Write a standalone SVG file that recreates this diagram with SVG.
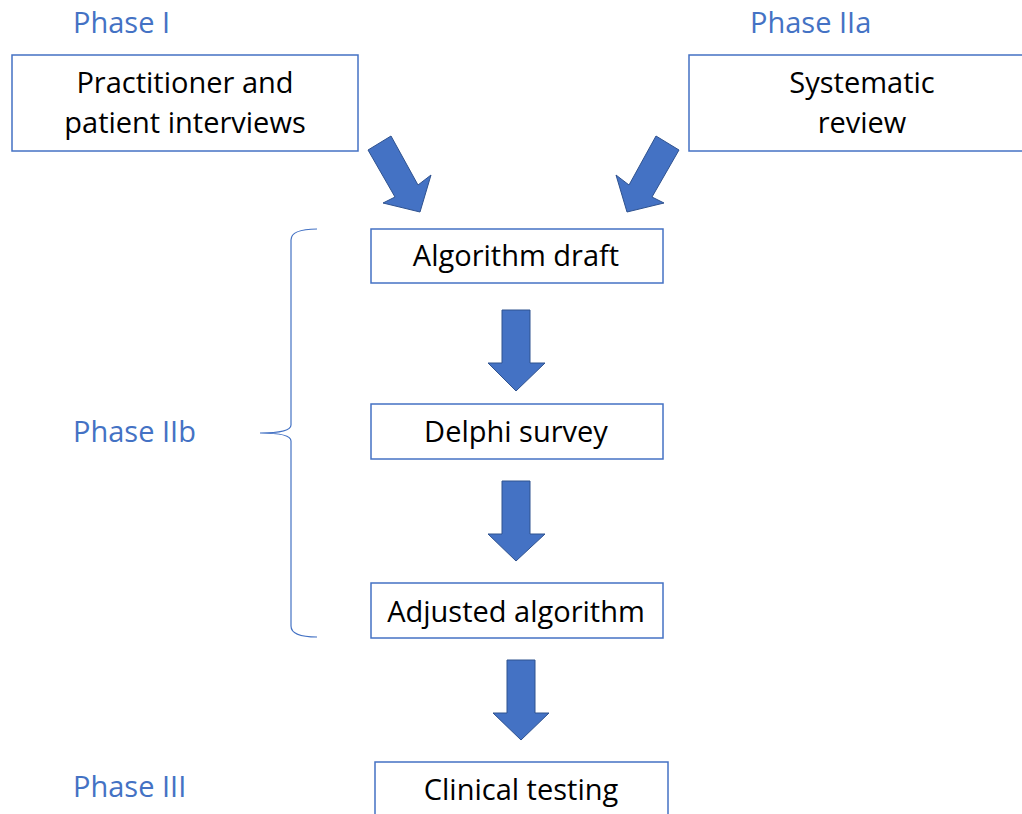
<svg xmlns="http://www.w3.org/2000/svg" width="1022" height="814" viewBox="0 0 1022 814">
<style>
.box{fill:#fff;stroke:#4472C4;stroke-width:1.5}
.t{font-family:"Open Sans","Noto Sans",sans-serif;font-size:29px;fill:#000;text-anchor:middle}
.ph{font-family:"Open Sans","Noto Sans",sans-serif;font-size:29px;fill:#4472C4}
.arr{fill:#4472C4;stroke:#2F528F;stroke-width:1}
.brace{fill:none;stroke:#4472C4;stroke-width:1.2}
</style>
<rect width="1022" height="814" fill="#fff"/>
<g id="labels">
<text class="ph" x="73" y="33">Phase I</text>
<text class="ph" x="750" y="33">Phase IIa</text>
<text class="ph" x="73" y="442">Phase IIb</text>
<text class="ph" x="73" y="797">Phase III</text>
</g>
<g id="n1"><rect class="box" x="12" y="55" width="346" height="96"/>
<text class="t" x="185" y="93">Practitioner and</text>
<text class="t" x="185" y="133">patient interviews</text></g>
<g id="n2"><rect class="box" x="689" y="55" width="340" height="96"/>
<text class="t" x="862" y="93">Systematic</text>
<text class="t" x="862" y="133">review</text></g>
<g id="n3"><rect class="box" x="371" y="229" width="292" height="54"/>
<text class="t" x="516" y="266">Algorithm draft</text></g>
<g id="n4"><rect class="box" x="371" y="404" width="292" height="55"/>
<text class="t" x="516" y="442">Delphi survey</text></g>
<g id="n5"><rect class="box" x="371" y="583" width="292" height="55"/>
<text class="t" x="516" y="622">Adjusted algorithm</text></g>
<g id="n6"><rect class="box" x="375" y="762" width="293" height="70"/>
<text class="t" x="521" y="800">Clinical testing</text></g>
<g id="brace"><path class="brace" d="M317,229 Q291,229 291,240 L291,425 Q291,433 260,433 Q291,433 291,441 L291,626 Q291,637 317,637"/></g>
<g id="connectors">
<polygon class="arr" points="368,150 391,136 418,185 431,175 420,212 383,203 395,197"/>
<polygon class="arr" points="679,150 656,136 629,185 616,175 627,212 664,203 652,197"/>
<polygon class="arr" points="502,310 530,310 530,363 545,363 516,391 488,363 502,363"/>
<polygon class="arr" points="502,481 530,481 530,534 545,534 516,561 488,534 502,534"/>
<polygon class="arr" points="507,660 535,660 535,713 549,713 521,740 493,713 507,713"/>
</g>
</svg>
